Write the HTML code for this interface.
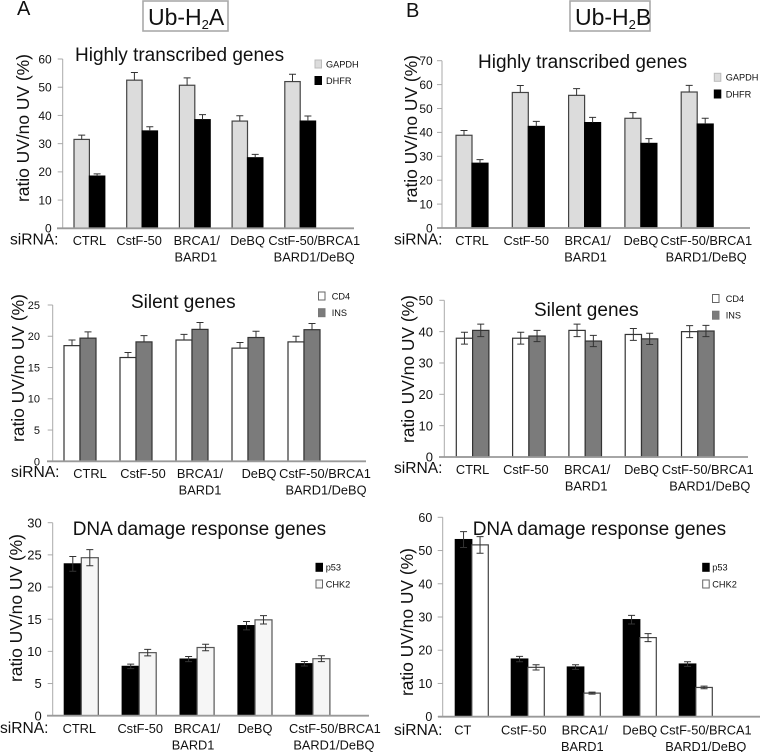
<!DOCTYPE html>
<html lang="en">
<head>
<meta charset="utf-8">
<title>Ub-H2A and Ub-H2B ratio charts</title>
<style>
html,body{margin:0;padding:0;background:#fff;width:760px;height:752px;overflow:hidden}
svg{display:block;filter:blur(0.35px)}
text{font-family:"Liberation Sans",Arial,sans-serif;fill:#111}
</style>
</head>
<body>
<svg id="figure" xmlns="http://www.w3.org/2000/svg" width="760" height="752" viewBox="0 0 760 752">
  <text x="17" y="15" font-size="20">A</text>
  <text x="406" y="17" font-size="20">B</text>
  <rect x="143" y="1" width="85" height="30" fill="#fff" stroke="#aaa" stroke-width="1.6"/>
  <text x="148" y="25" font-size="23">Ub-H<tspan font-size="13" dy="4">2</tspan><tspan dy="-4">A</tspan></text>
  <rect x="570" y="1" width="80" height="30" fill="#fff" stroke="#aaa" stroke-width="1.6"/>
  <text x="575" y="25" font-size="23">Ub-H<tspan font-size="13" dy="4">2</tspan><tspan dy="-4">B</tspan></text>
</svg>
<script>
/* ---------- chart data ---------- */
const a1Categories = ['CTRL', 'CstF-50', 'BRCA1/\nBARD1', 'DeBQ', 'CstF-50/BRCA1\nBARD1/DeBQ'];
const a1Ticks = [0, 10, 20, 30, 40, 50, 60];
const a1Gapdh = [31.5, 52.5, 50.7, 38, 52];
const a1GapdhErr = [1.5, 2.7, 2.6, 1.9, 2.6];
const a1Dhfr = [18.5, 34.5, 38.5, 25, 38];
const a1DhfrErr = [0.8, 1.5, 1.8, 1.2, 1.8];

const b1Categories = ['CTRL', 'CstF-50', 'BRCA1/\nBARD1', 'DeBQ', 'CstF-50/BRCA1\nBARD1/DeBQ'];
const b1Ticks = [0, 10, 20, 30, 40, 50, 60, 70];
const b1Gapdh = [38.8, 56.7, 55.5, 45.9, 56.9];
const b1GapdhErr = [2, 2.9, 2.8, 2.4, 2.8];
const b1Dhfr = [27.1, 42.5, 44.1, 35.4, 43.5];
const b1DhfrErr = [1.5, 2.1, 2.2, 2, 2.4];

const a2Categories = ['CTRL', 'CstF-50', 'BRCA1/\nBARD1', 'DeBQ', 'CstF-50/BRCA1\nBARD1/DeBQ'];
const a2Ticks = [0, 5, 10, 15, 20, 25];
const a2Cd4 = [18.5, 16.6, 19.4, 18.1, 19.1];
const a2Cd4Err = [0.9, 0.8, 0.9, 0.9, 0.9];
const a2Ins = [19.7, 19.1, 21.1, 19.8, 21.05];
const a2InsErr = [1, 1, 1.1, 1, 1];

const b2Categories = ['CTRL', 'CstF-50', 'BRCA1/\nBARD1', 'DeBQ', 'CstF-50/BRCA1\nBARD1/DeBQ'];
const b2Ticks = [0, 10, 20, 30, 40, 50];
const b2Cd4 = [37.9, 37.9, 40.4, 39.1, 40];
const b2Cd4Err = [1.9, 1.9, 2, 1.9, 1.9];
const b2Ins = [40.4, 38.6, 37, 37.7, 40.2];
const b2InsErr = [2, 1.8, 1.8, 1.8, 1.8];

const a3Categories = ['CTRL', 'CstF-50', 'BRCA1/\nBARD1', 'DeBQ', 'CstF-50/BRCA1\nBARD1/DeBQ'];
const a3Ticks = [0, 5, 10, 15, 20, 25, 30];
const a3P53 = [23.6, 7.67, 8.8, 14, 8.08];
const a3P53Err = [1.15, 0.35, 0.4, 0.65, 0.35];
const a3Chk2 = [24.56, 9.8, 10.6, 14.9, 8.86];
const a3Chk2Err = [1.25, 0.5, 0.5, 0.65, 0.45];

const b3Categories = ['CT', 'CstF-50', 'BRCA1/\nBARD1', 'DeBQ', 'CstF-50/BRCA1\nBARD1/DeBQ'];
const b3Ticks = [0, 10, 20, 30, 40, 50, 60];
const b3P53 = [53.3, 17.35, 14.95, 29.2, 15.85];
const b3P53Err = [2.4, 0.8, 0.7, 1.3, 0.7];
const b3Chk2 = [51.7, 14.85, 7.1, 23.8, 8.8];
const b3Chk2Err = [2.5, 0.8, 0.3, 1.2, 0.4];

/* ---------- drawing ---------- */
const NS = 'http://www.w3.org/2000/svg';
const figure = document.getElementById('figure');

function make(parent, tag, props, content) {
  const node = document.createElementNS(NS, tag);
  Object.keys(props).forEach(function (k) { node.setAttribute(k, props[k]); });
  if (content !== undefined) node.textContent = content;
  parent.appendChild(node);
  return node;
}

function drawPanel(p) {
  const g = make(figure, 'g', {});
  
  

  const maxTick = p.ticks[p.ticks.length - 1];
  const yScale = function (v) { return p.y0 - (v / maxTick) * (p.y0 - p.yTop); };
  const xGroup = function (i) { return p.x0 + i * p.step; };

  const title = make(g, 'text', { x: p.titleX, y: p.titleY, 'font-size': 19 }, p.title);
  
  

  const yTitle = make(g, 'text', {
    transform: 'translate(' + p.yTitleX + ' ' + p.yTitleY + ') rotate(-90)',
    'font-size': 17.4
  }, 'ratio UV/no UV (%)');
  
  

  const siRna = make(g, 'text', { x: p.siX, y: p.siY, 'font-size': 15.6 }, 'siRNA:');
  
  

  const yAxis = make(g, 'line', { x1: p.axisX, x2: p.axisX, y1: p.yTop, y2: p.y0, stroke: '#aaa', 'stroke-width': 1 });
  
  

  p.ticks.forEach(function (t) {
    const y = yScale(t);
    const tick = make(g, 'line', { x1: p.axisX - 5, x2: p.axisX, y1: y, y2: y, stroke: '#aaa', 'stroke-width': 1 });
    
    
    const label = make(g, 'text', { x: p.tickRight, y: y + p.tickSize * 0.36, 'font-size': p.tickSize, 'text-anchor': 'end' }, String(t));
    
    
  });

  p.series.forEach(function (s, si) {
    s.values.forEach(function (v, i) {
      const x = xGroup(i) + si * p.barW;
      const y = yScale(v);
      const bar = make(g, 'rect', {
        x: x, y: y, width: p.barW, height: p.y0 - y,
        fill: s.fill, stroke: s.stroke, 'stroke-width': 1.2
      });
      
      

      const cx = x + p.barW / 2;
      const hi = yScale(v + s.errors[i]);
      const lo = p.twoSided ? yScale(v - s.errors[i]) : y;
      const err = make(g, 'path', {
        d: 'M' + cx + ' ' + lo + 'V' + hi + 'M' + (cx - 3.5) + ' ' + hi + 'H' + (cx + 3.5) +
           (p.twoSided ? 'M' + (cx - 3.5) + ' ' + lo + 'H' + (cx + 3.5) : ''),
        fill: 'none', stroke: '#333', 'stroke-width': 1
      });
      
      
    });
  });

  const xAxis = make(g, 'line', { x1: p.xAxisFrom, x2: p.xAxisTo, y1: p.y0, y2: p.y0, stroke: '#999', 'stroke-width': 1.8 });
  
  

  p.categories.forEach(function (c, i) {
    const cx = xGroup(i) + p.barW + p.labelDx[i];
    c.split('\n').forEach(function (line, li) {
      const lineX = li === 0 ? cx : cx + p.secondLineDx[i];
      const t = make(g, 'text', { x: lineX, y: p.labelY + li * 16.3, 'font-size': 12.8, 'text-anchor': 'middle' }, line);
      
      
    });
  });

  p.series.forEach(function (s, si) {
    const ly = p.legendY + si * p.legendGap;
    const sw = make(g, 'rect', { x: p.legendX, y: ly, width: 6.5, height: 8, fill: s.fill, stroke: s.legendStroke, 'stroke-width': 1 });
    
    
    const lt = make(g, 'text', { x: p.legendTextX, y: ly + 7.4, 'font-size': 9.2 }, s.name);
    
    
  });
}

const GRAY = '#dcdcdc', BLACK = '#000', DARK = '#7b7b7b', WHITE = '#fff';

drawPanel({
  id: 'h2a-highly-transcribed', title: 'Highly transcribed genes', titleX: 75, titleY: 61,
  categories: a1Categories, ticks: a1Ticks, twoSided: false,
  x0: 74, step: 52.7, barW: 15.4, y0: 228.3, yTop: 59, axisX: 62.7, xAxisFrom: 57, xAxisTo: 354,
  tickRight: 51.7, tickSize: 12, yTitleX: 29, yTitleY: 202, siX: 10, siY: 244.5,
  labelY: 245, labelDx: [0, -3, 2, 0, 14], secondLineDx: [0, 0, -1, 0, 0],
  legendX: 315, legendTextX: 326, legendY: 60, legendGap: 16.5,
  series: [
    { key: 'gapdh', name: 'GAPDH', values: a1Gapdh, errors: a1GapdhErr, fill: GRAY, stroke: '#444', legendStroke: '#bbb' },
    { key: 'dhfr', name: 'DHFR', values: a1Dhfr, errors: a1DhfrErr, fill: BLACK, stroke: '#000', legendStroke: '#000' }
  ]
});

drawPanel({
  id: 'h2b-highly-transcribed', title: 'Highly transcribed genes', titleX: 478, titleY: 68,
  categories: b1Categories, ticks: b1Ticks, twoSided: false,
  x0: 456, step: 56.3, barW: 16, y0: 228, yTop: 60.7, axisX: 442, xAxisFrom: 437, xAxisTo: 750,
  tickRight: 432.7, tickSize: 12, yTitleX: 417, yTitleY: 203, siX: 394, siY: 244.5,
  labelY: 245, labelDx: [0, -2, 3, 0, 9], secondLineDx: [0, 0, -2, 0, 0],
  legendX: 714.3, legendTextX: 725.7, legendY: 73.3, legendGap: 16.7,
  series: [
    { key: 'gapdh', name: 'GAPDH', values: b1Gapdh, errors: b1GapdhErr, fill: GRAY, stroke: '#444', legendStroke: '#bbb' },
    { key: 'dhfr', name: 'DHFR', values: b1Dhfr, errors: b1DhfrErr, fill: BLACK, stroke: '#000', legendStroke: '#000' }
  ]
});

drawPanel({
  id: 'h2a-silent', title: 'Silent genes', titleX: 131, titleY: 308,
  categories: a2Categories, ticks: a2Ticks, twoSided: false,
  x0: 64, step: 56, barW: 16, y0: 461.3, yTop: 305, axisX: 52.7, xAxisFrom: 47, xAxisTo: 366,
  tickRight: 40, tickSize: 11, yTitleX: 24, yTitleY: 442, siX: 11, siY: 477,
  labelY: 478, labelDx: [10, 7, 8, 11, 21], secondLineDx: [0, 0, 0, 0, 1],
  legendX: 318.5, legendTextX: 331.7, legendY: 292, legendGap: 16.7,
  series: [
    { key: 'cd4', name: 'CD4', values: a2Cd4, errors: a2Cd4Err, fill: WHITE, stroke: '#333', legendStroke: '#666' },
    { key: 'ins', name: 'INS', values: a2Ins, errors: a2InsErr, fill: DARK, stroke: '#333', legendStroke: '#777' }
  ]
});

drawPanel({
  id: 'h2b-silent', title: 'Silent genes', titleX: 534, titleY: 316,
  categories: b2Categories, ticks: b2Ticks, twoSided: true,
  x0: 456.3, step: 56.3, barW: 16.3, y0: 457, yTop: 300.3, axisX: 444.3, xAxisFrom: 439, xAxisTo: 748,
  tickRight: 433, tickSize: 13, yTitleX: 414, yTitleY: 443, siX: 394, siY: 473,
  labelY: 474, labelDx: [0, -3, 2, 0, 10], secondLineDx: [0, 0, -1, 0, 2],
  legendX: 712.5, legendTextX: 725.7, legendY: 294.5, legendGap: 16.7,
  series: [
    { key: 'cd4', name: 'CD4', values: b2Cd4, errors: b2Cd4Err, fill: WHITE, stroke: '#333', legendStroke: '#666' },
    { key: 'ins', name: 'INS', values: b2Ins, errors: b2InsErr, fill: DARK, stroke: '#333', legendStroke: '#777' }
  ]
});

drawPanel({
  id: 'h2a-dna-damage', title: 'DNA damage response genes', titleX: 72.7, titleY: 535,
  categories: a3Categories, ticks: a3Ticks, twoSided: true,
  x0: 64.3, step: 57.9, barW: 17, y0: 715.7, yTop: 522.7, axisX: 52.7, xAxisFrom: 47, xAxisTo: 369,
  tickRight: 41.7, tickSize: 13, yTitleX: 22, yTitleY: 682, siX: 0, siY: 733,
  labelY: 733, labelDx: [-2, 1, 0, 0, 22], secondLineDx: [0, 0, -4, 0, -1],
  legendX: 316, legendTextX: 325.7, legendY: 563.3, legendGap: 16.7,
  series: [
    { key: 'p53', name: 'p53', values: a3P53, errors: a3P53Err, fill: BLACK, stroke: '#000', legendStroke: '#000' },
    { key: 'chk2', name: 'CHK2', values: a3Chk2, errors: a3Chk2Err, fill: '#f6f6f6', stroke: '#555', legendStroke: '#666' }
  ]
});

drawPanel({
  id: 'h2b-dna-damage', title: 'DNA damage response genes', titleX: 472.7, titleY: 535,
  categories: b3Categories, ticks: b3Ticks, twoSided: true,
  x0: 455.3, step: 56, barW: 16.5, y0: 716.7, yTop: 517.3, axisX: 442.7, xAxisFrom: 438, xAxisTo: 760,
  tickRight: 432.3, tickSize: 12.5, yTitleX: 413, yTitleY: 696, siX: 394, siY: 735,
  labelY: 734.7, labelDx: [-9, -4, 1, 0, 10], secondLineDx: [0, 0, -2.5, 0, 0],
  legendX: 702.7, legendTextX: 712.3, legendY: 563.3, legendGap: 16.7,
  series: [
    { key: 'p53', name: 'p53', values: b3P53, errors: b3P53Err, fill: BLACK, stroke: '#000', legendStroke: '#000' },
    { key: 'chk2', name: 'CHK2', values: b3Chk2, errors: b3Chk2Err, fill: WHITE, stroke: '#444', legendStroke: '#666' }
  ]
});
</script>
</body>
</html>
